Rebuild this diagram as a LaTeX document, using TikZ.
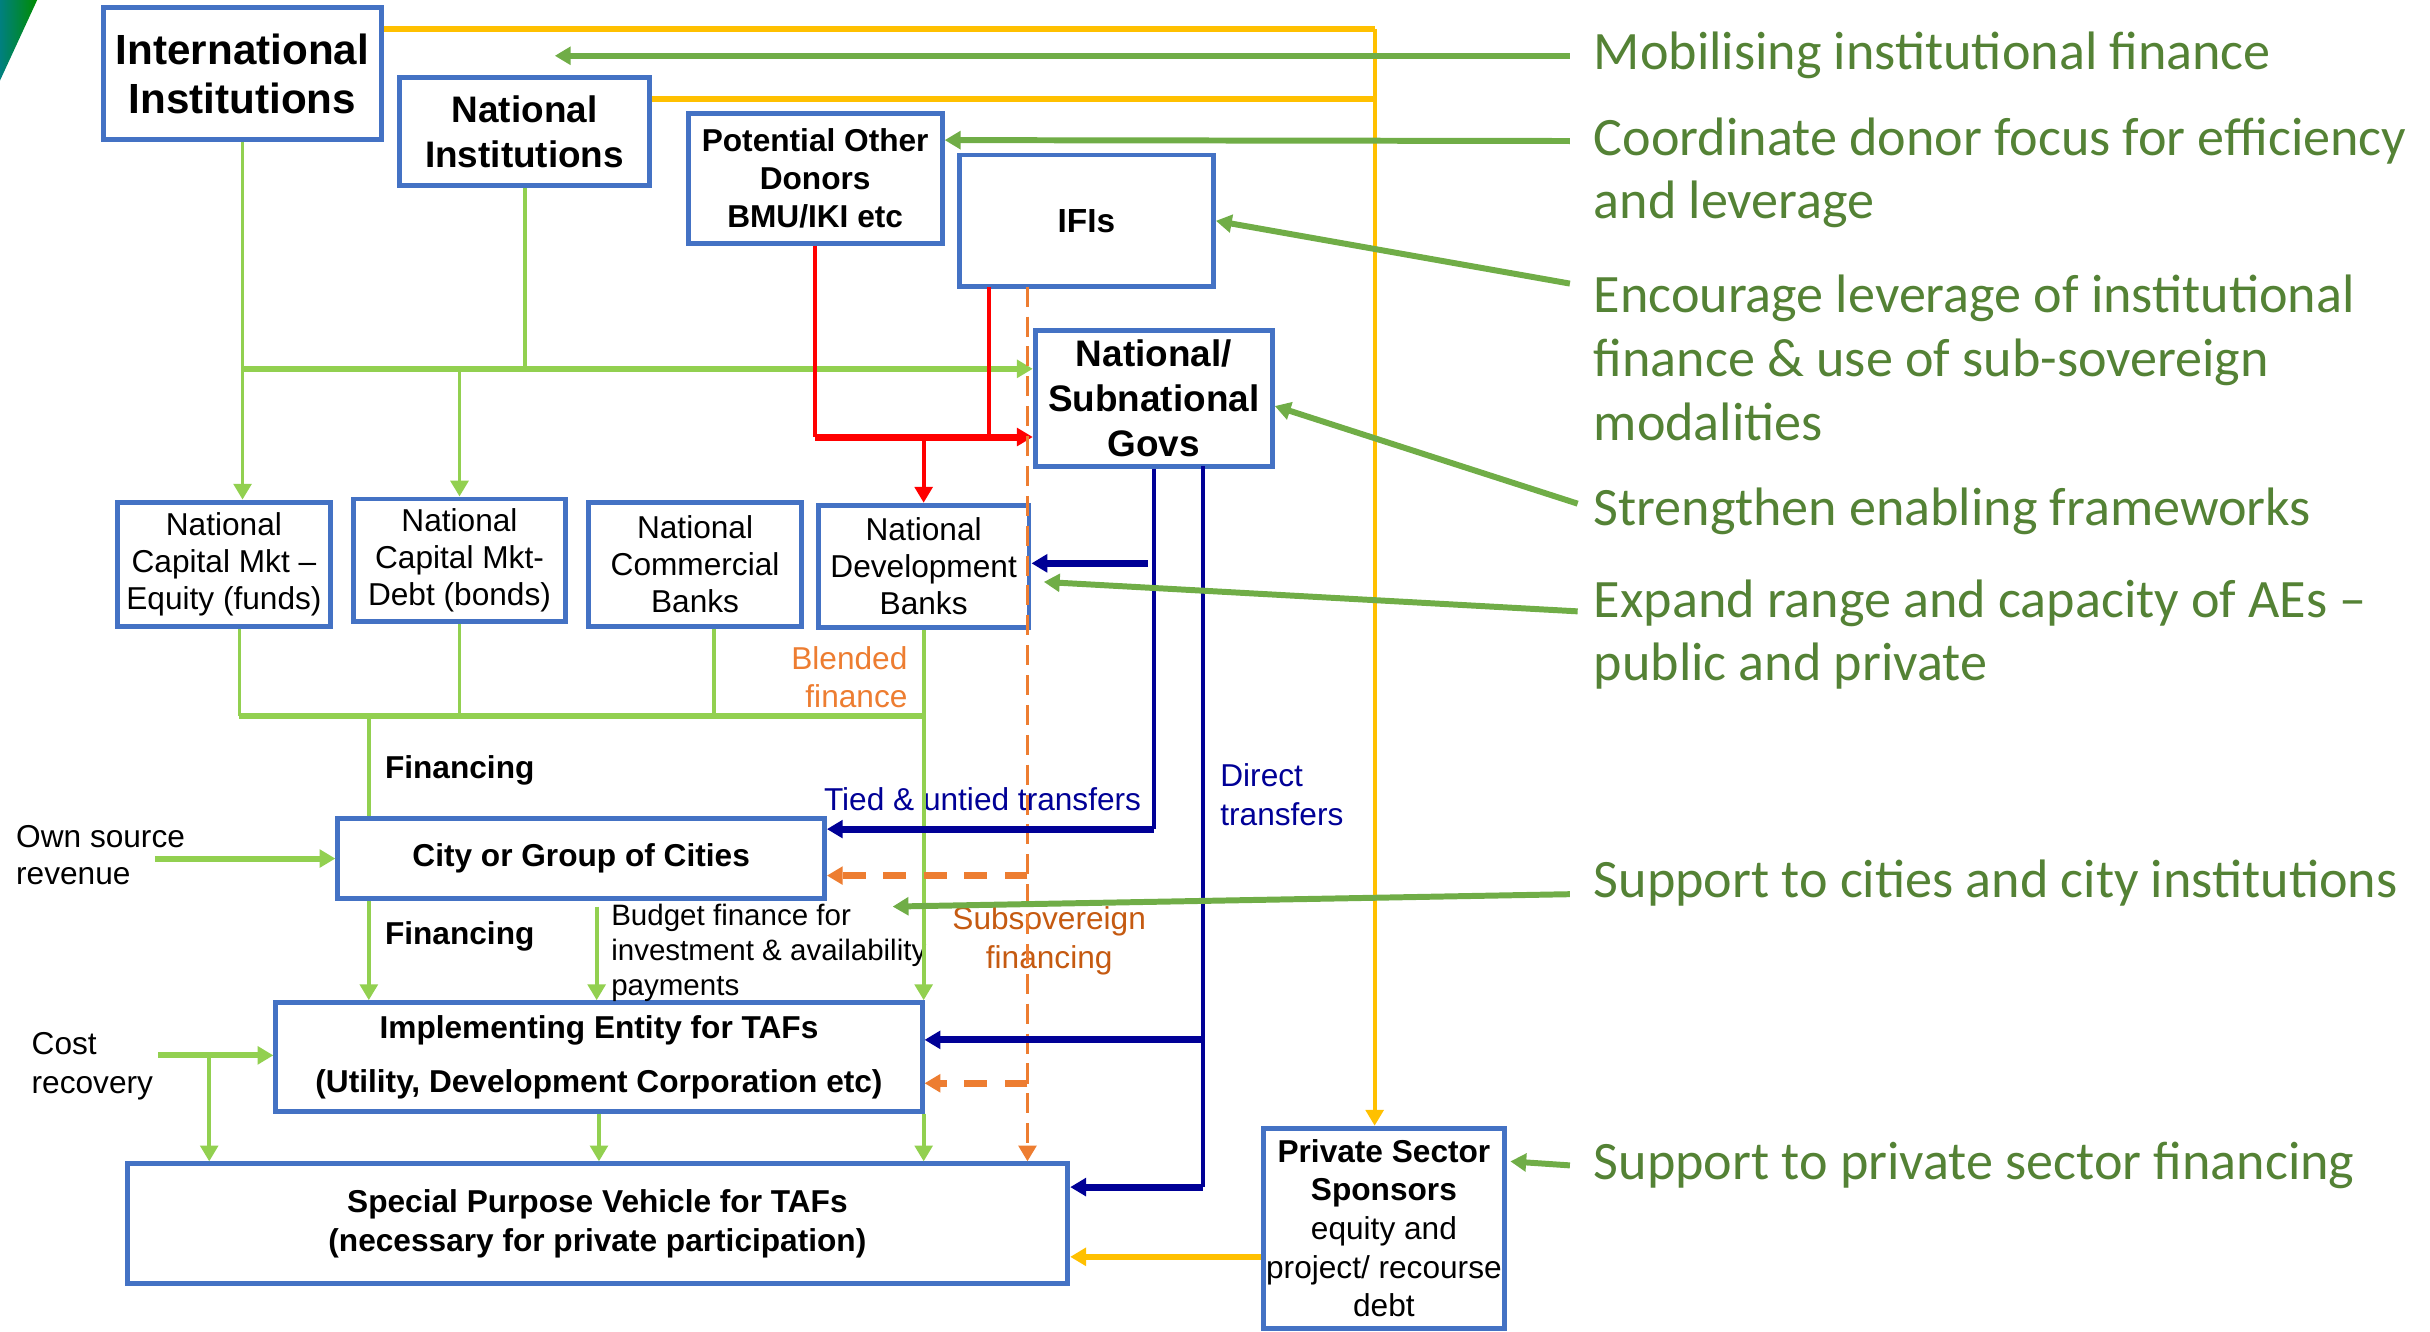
\documentclass[tikz,border=0pt]{standalone}
\usepackage{fontspec}
\setmainfont{Liberation Sans}
\newfontfamily\callfont{Carlito}
\usetikzlibrary{calc}
\usetikzlibrary{arrows.meta}

\definecolor{boxblue}{HTML}{4472C4}
\definecolor{lightgreen}{HTML}{92D050}
\definecolor{arrowgreen}{HTML}{70AD47}
\definecolor{callgreen}{HTML}{548235}
\definecolor{flowyellow}{HTML}{FFC000}
\definecolor{flowred}{HTML}{FF0000}
\definecolor{floworange}{HTML}{ED7D31}
\definecolor{darkorange}{HTML}{C55A11}
\definecolor{flownavy}{HTML}{000096}

\tikzset{
    box/.style={draw=boxblue, line width=1.4pt, fill=white, inner sep=0pt,
        align=center, font=\fontsize{9}{10.6}\selectfont},
    bbox/.style={box, font=\bfseries\fontsize{9}{11}\selectfont},
    % box from its two corners (x1,y1,x2,y2)
    spanbox/.style n args={4}{minimum width={(#3-#1)*0.15497mm},
        minimum height={(#4-#2)*0.15497mm}, at={({(#1+#3)/2},{(#2+#4)/2})}},
    lbl/.style={inner sep=0pt, align=left, font=\fontsize{9}{11}\selectfont},
    call/.style={anchor=west, align=left, inner xsep=6.6pt, inner ysep=0pt,
        text=callgreen, font=\callfont\fontsize{15.4}{18.1}\selectfont},
    callarrow/.style={->, draw=arrowgreen, line width=1.7pt},
    lgthin/.style={draw=lightgreen, line width=1.1pt},
    lgthick/.style={draw=lightgreen, line width=1.7pt},
    ylthin/.style={draw=flowyellow, line width=1.1pt},
    ylthick/.style={draw=flowyellow, line width=1.7pt},
    rdthin/.style={draw=flowred, line width=1.1pt},
    rdthick/.style={draw=flowred, line width=2pt},
    nvthin/.style={draw=flownavy, line width=1.1pt},
    nvthick/.style={draw=flownavy, line width=2pt},
    ordash/.style={draw=floworange, line width=1.1pt, dash pattern=on 5.7pt off 2.8pt},
    ordashthick/.style={draw=floworange, line width=2pt, dash pattern=on 6.5pt off 5pt},
}

\begin{document}
\begin{tikzpicture}[x=0.15497mm, y=-0.15497mm, >={Triangle[length=4.5pt,width=5pt]}]
    \useasboundingbox (0,0) rectangle (1568,859);

    % corner of the slide
    \shade[left color=teal, right color=green!55!black] (0,0) -- (24,0) -- (0,52) -- cycle;

    % institutions
    \node[bbox, font=\bfseries\fontsize{12}{14}\selectfont, spanbox={67}{5}{246}{90}] (intl) {International\\Institutions};
    \node[bbox, font=\bfseries\fontsize{10.5}{12.8}\selectfont, spanbox={258}{50}{419}{120}] (natinst) {National\\Institutions};
    \node[bbox, font=\bfseries\fontsize{9}{10.8}\selectfont, spanbox={444}{73}{608}{157}] (donors) {Potential Other\\Donors\\BMU/IKI etc};
    \node[bbox, font=\bfseries\fontsize{9.5}{11}\selectfont, spanbox={619}{100}{783}{185}] (ifis) {IFIs};
    \node[bbox, font=\bfseries\fontsize{10.5}{12.8}\selectfont, spanbox={668}{213}{821}{301}] (govs) {National/\\Subnational\\Govs};

    % national finance
    \node[box, spanbox={76}{324}{213}{404}] (eqty) {National\\Capital Mkt –\\Equity (funds)};
    \node[box, spanbox={228}{322}{365}{401}] (debt) {National\\Capital Mkt-\\Debt (bonds)};
    \node[box, spanbox={380}{324}{517}{404}] (comm) {National\\Commercial\\Banks};
    \node[box, spanbox={528}{326}{664}{405}] (ndb) {National\\Development\\Banks};

    % cities and entities
    \node[bbox, spanbox={218}{528}{532}{580}] (city) {City or Group of Cities};
    \node[bbox, font=\bfseries\fontsize{9}{15.4}\selectfont, spanbox={178}{647}{595}{717}] (impl) {Implementing Entity for TAFs\\(Utility, Development Corporation etc)};
    \node[bbox, font=\bfseries\fontsize{9}{11}\selectfont, spanbox={82}{751}{689}{828}] (spv) {Special Purpose Vehicle for TAFs\\(necessary for private participation)};
    \node[box, font=\fontsize{9}{11}\selectfont, spanbox={815}{728}{971}{857}] (priv) {\textbf{Private Sector}\\\textbf{Sponsors}\\equity and\\project/ recourse\\debt};

    % side labels
    \node[lbl, anchor=west, font=\bfseries\fontsize{9}{11}\selectfont] (fin1) at (248,497) {Financing};
    \node[lbl, anchor=west, font=\bfseries\fontsize{9}{11}\selectfont] (fin2) at (248,604) {Financing};
    \node[lbl, anchor=west, font=\fontsize{9}{10.6}\selectfont] (own) at (10,552) {Own source\\revenue};
    \node[lbl, anchor=west] (cost) at (20,688) {Cost\\recovery};
    \node[lbl, anchor=west, font=\fontsize{8.4}{10}\selectfont] (budget) at (394,615) {Budget finance for\\investment \& availability\\payments};
    \node[lbl, anchor=east, align=right, text=floworange] (blend) at (586,437) {Blended\\finance};
    \node[lbl, align=center, text=darkorange] (subs) at (677,607) {Subsovereign\\financing};
    \node[lbl, text=flownavy] (tied) at (634,516) {Tied \& untied transfers};
    \node[lbl, anchor=west, text=flownavy] (direct) at (787,513) {Direct\\transfers};

    % junction points
    \coordinate (ytop) at (887,19);
    \coordinate (ymid) at (887,64);
    \coordinate (ybot) at (750,811);
    \coordinate (gbar) at (0,238);
    \coordinate (fbar) at (0,462);
    \coordinate (finA) at (238,462);
    \coordinate (bud) at (385,585);
    \coordinate (osr) at (100,554);
    \coordinate (cr) at (102,681);
    \coordinate (crj) at (135,681);
    \coordinate (rbar) at (0,282);
    \coordinate (rifi) at (638,185);
    \coordinate (odash) at (663,185);
    \coordinate (ocity) at (663,565);
    \coordinate (oimpl) at (663,699);
    \coordinate (tbar) at (0,535);
    \coordinate (dtr) at (776,301);
    \coordinate (dimp) at (776,671);
    \coordinate (dtrb) at (776,766);

    % yellow: institutions to private sector
    \draw[ylthick] (intl.east |- ytop) -- (ytop);
    \draw[ylthick] (natinst.east |- ymid) -- (ymid);
    \draw[ylthin, ->] (ytop) -- (ytop |- priv.north);
    \draw[ylthick, ->] (priv.west |- ybot) -- (spv.east |- ybot);

    % light green: financing flows
    \draw[lgthin, ->] (intl.south) -- (intl.south |- eqty.north);
    \draw[lgthin] (natinst.south) -- (natinst.south |- gbar);
    \draw[lgthick, ->] (intl.south |- gbar) -- (govs.west |- gbar);
    \draw[lgthin, ->] (debt.north |- gbar) -- (debt.north);
    \draw[lgthin] ($(eqty.south)+(10,0)$) -- ($(eqty.south |- fbar)+(10,0)$);
    \draw[lgthin] (debt.south) -- (debt.south |- fbar);
    \draw[lgthin] ($(comm.south)+(12,0)$) -- ($(comm.south |- fbar)+(12,0)$);
    \draw[lgthick] ($(eqty.south |- fbar)+(10,0)$) -- (ndb.south |- fbar);
    \draw[lgthin, ->] (ndb.south) -- (ndb.south |- impl.north);
    \draw[lgthin] (finA) -- (finA |- city.north);
    \draw[lgthick, ->] (osr) -- (osr -| city.west);
    \draw[lgthin, ->] (finA |- city.south) -- (finA |- impl.north);
    \draw[lgthin, ->] (bud) -- (bud |- impl.north);
    \draw[lgthick, ->] (cr) -- (cr -| impl.west);
    \draw[lgthin, ->] (crj) -- (crj |- spv.north);
    \draw[lgthin, ->] (impl.south) -- (impl.south |- spv.north);
    \draw[lgthin, ->] (ndb.south |- impl.south) -- (ndb.south |- spv.north);

    % red: donors and IFIs
    \draw[rdthin] (donors.south) -- (donors.south |- rbar);
    \draw[rdthin] (rifi) -- (rifi |- rbar);
    \draw[rdthick, ->] (donors.south |- rbar) -- (govs.west |- rbar);
    \draw[rdthin, ->] (ndb.north |- rbar) -- (ndb.north);

    % orange dashed: subsovereign
    \draw[ordash, ->] (odash) -- (odash |- spv.north);
    \draw[ordashthick, ->] (ocity) -- (ocity -| city.east);
    \draw[ordashthick, ->] (oimpl) -- (oimpl -| impl.east);

    % navy: transfers
    \draw[nvthin] (govs.south) -- (govs.south |- tbar);
    \draw[nvthick, ->] (govs.south |- tbar) -- (city.east |- tbar);
    \draw[nvthick, ->] ($(govs.south |- ndb.east)+(-4,-2)$) -- ($(ndb.east)+(0,-2)$);
    \draw[nvthin] (dtr) -- (dtrb);
    \draw[nvthick, ->] (dimp) -- (dimp -| impl.east);
    \draw[nvthick, ->] (dtrb) -- (dtrb -| spv.east);

    % callouts
    \node[call] (mob) at (1013,36) {Mobilising institutional finance};
    \node[call] (coord) at (1013,111.5) {Coordinate donor focus for efficiency\\and leverage};
    \node[call] (enc) at (1013,231) {Encourage leverage of institutional\\finance \& use of sub-sovereign\\modalities};
    \node[call] (stren) at (1013,330) {Strengthen enabling frameworks};
    \node[call] (expd) at (1013,409.5) {Expand range and capacity of AEs –\\public and private};
    \node[call] (supc) at (1013,570) {Support to cities and city institutions};
    \node[call] (supp) at (1013,752) {Support to private sector financing};

    \coordinate (mobend) at (358,36);
    \coordinate (supend) at (576,585);

    \draw[callarrow] (mob.west) -- (mobend);
    \draw[callarrow] ($(coord.west)+(0,-20.5)$) -- ($(donors.north east)+(0,19)$);
    \draw[callarrow] ($(enc.west)+(0,-48)$) -- (ifis.east);
    \draw[callarrow] ($(stren.west)+(5,-5)$) -- ($(govs.east)+(0,5)$);
    \draw[callarrow] ($(expd.west)+(5,-15)$) -- ($(ndb.east)+(8,10)$);
    \draw[callarrow] ($(supc.west)+(0,7)$) -- (supend);
    \draw[callarrow] (supp.west) -- ($(priv.north east)+(2,23)$);

\end{tikzpicture}
\end{document}
